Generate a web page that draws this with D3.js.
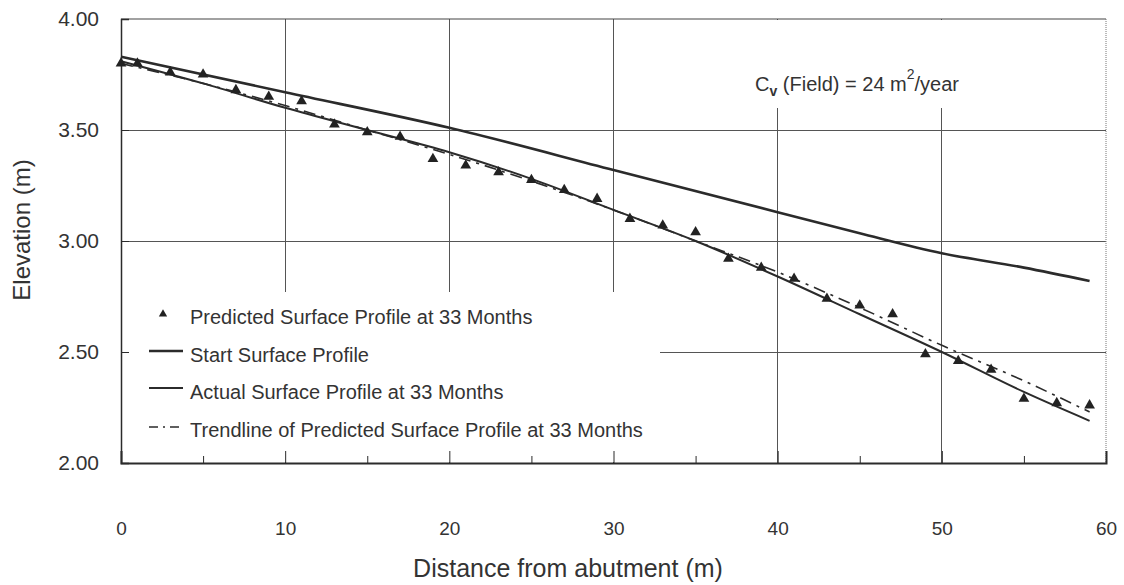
<!DOCTYPE html>
<html>
<head>
<meta charset="utf-8">
<script src="https://cdn.jsdelivr.net/npm/d3@7"></script>
<style>
  body { margin: 0; background: #fff; }
  svg { display: block; }
  text { font-family: "Liberation Sans", Arial, sans-serif; fill: #333; }
  .narrow { font-family: "Liberation Sans Narrow", "Arial Narrow", "Liberation Sans", sans-serif; }
</style>
</head>
<body>
<div id="chart"></div>
<script>
// predicted surface (triangles), every 2 m
var predX = [0, 1, 3, 5, 7, 9, 11, 13, 15, 17, 19, 21, 23, 25, 27, 29, 31, 33, 35, 37, 39, 41, 43, 45, 47, 49, 51, 53, 55, 57, 59];
var predY = [3.80, 3.80, 3.76, 3.75, 3.68, 3.65, 3.63, 3.525, 3.49, 3.47, 3.37, 3.34, 3.31, 3.275, 3.23, 3.19, 3.10, 3.07, 3.04, 2.92, 2.88, 2.83, 2.74, 2.71, 2.67, 2.49, 2.46, 2.42, 2.29, 2.27, 2.26];

// start surface profile
var startX = [0, 10, 20, 30, 40, 45, 50, 55, 59];
var startY = [3.83, 3.67, 3.51, 3.32, 3.13, 3.035, 2.945, 2.88, 2.82];

// actual surface profile at 33 months
var actualX = [0, 5, 10, 15, 20, 25, 30, 35, 40, 45, 50, 55, 59];
var actualY = [3.81, 3.71, 3.60, 3.50, 3.40, 3.28, 3.14, 3.00, 2.84, 2.67, 2.50, 2.32, 2.19];

// trendline of predicted profile
var trendX = [0, 5, 10, 15, 20, 25, 30, 35, 40, 45, 50, 55, 59];
var trendY = [3.80, 3.71, 3.61, 3.50, 3.39, 3.27, 3.14, 3.00, 2.86, 2.70, 2.53, 2.37, 2.23];

var xTicks = [0, 10, 20, 30, 40, 50, 60];
var xMinor = [5, 15, 25, 35, 45, 55];
var yTicks = [2.0, 2.5, 3.0, 3.5, 4.0];

var legendLabels = ["Predicted Surface Profile at 33 Months", "Start Surface Profile",
                    "Actual Surface Profile at 33 Months", "Trendline of Predicted Surface Profile at 33 Months"];

var W = 1124, H = 585;
var pLeft = 121, pRight = 1106, pTop = 19, pBottom = 463;
var ink = "#2b2b2b";

var x = d3.scaleLinear().domain([0, 60]).range([pLeft, pRight]);
var y = d3.scaleLinear().domain([2, 4]).range([pBottom, pTop]);

var svg = d3.select("#chart").append("svg").attr("width", W).attr("height", H);

function zip(xs, ys){ return xs.map(function(d, i){ return [d, ys[i]]; }); }

// grid
var grid = svg.append("g");
grid.selectAll("line.h").data([2.5, 3.0, 3.5]).enter().append("line")
    .attr("x1", pLeft).attr("x2", pRight)
    .attr("y1", function(d){ return y(d); }).attr("y2", function(d){ return y(d); })
    .attr("stroke", "#555").attr("stroke-width", 1).style("shape-rendering", "crispEdges");
grid.selectAll("line.v").data([10, 20, 30, 40, 50]).enter().append("line")
    .attr("x1", function(d){ return x(d); }).attr("x2", function(d){ return x(d); })
    .attr("y1", pTop).attr("y2", pBottom)
    .attr("stroke", "#555").attr("stroke-width", 1).style("shape-rendering", "crispEdges");

// boxes that hide the grid behind legend and note
svg.append("rect").attr("x", pLeft + 1).attr("y", 292).attr("width", 538).attr("height", pBottom - 293).attr("fill", "#fff");
svg.append("rect").attr("x", 742).attr("y", pTop + 1).attr("width", 258).attr("height", 88).attr("fill", "#fff");

// frame
svg.append("line").attr("x1", pLeft).attr("x2", pRight).attr("y1", pTop).attr("y2", pTop)
    .attr("stroke", "#444").attr("stroke-width", 1.2);
svg.append("line").attr("x1", pRight).attr("x2", pRight).attr("y1", pTop).attr("y2", pBottom)
    .attr("stroke", "#777").attr("stroke-width", 1).attr("stroke-dasharray", "1,1");

// y axis
var yAxis = svg.append("g").attr("transform", "translate(" + pLeft + ",0)")
    .call(d3.axisLeft(y).tickValues(yTicks).tickSize(-8).tickPadding(22).tickFormat(d3.format(".2f")));
yAxis.select(".domain").attr("stroke", ink).attr("stroke-width", 1.5);
yAxis.selectAll(".tick line").attr("stroke", ink);
yAxis.selectAll("text").style("font-size", "21px").attr("fill", "#333")
    .style("font-family", "'Liberation Sans', Arial, sans-serif");

// x axis
var xAxis = svg.append("g").attr("transform", "translate(0," + pBottom + ")")
    .call(d3.axisBottom(x).tickValues(xTicks).tickSize(-12).tickPadding(59).tickFormat(d3.format("d")));
xAxis.select(".domain").attr("stroke", ink).attr("stroke-width", 2);
xAxis.selectAll(".tick line").attr("stroke", ink);
xAxis.selectAll("text").attr("class", "narrow").style("font-size", "19px").attr("fill", "#333");
var xMinorAxis = svg.append("g").attr("transform", "translate(0," + pBottom + ")")
    .call(d3.axisBottom(x).tickValues(xMinor).tickSize(-7).tickFormat(""));
xMinorAxis.select(".domain").remove();
xMinorAxis.selectAll(".tick line").attr("stroke", ink);

// axis titles
svg.append("text").attr("class", "narrow").attr("x", 568).attr("y", 577)
    .attr("text-anchor", "middle").style("font-size", "25px").text("Distance from abutment (m)");
svg.append("text").attr("transform", "translate(30,230) rotate(-90)")
    .attr("text-anchor", "middle").style("font-size", "24px").text("Elevation (m)");

// series
var line = d3.line().x(function(d){ return x(d[0]); }).y(function(d){ return y(d[1]); }).curve(d3.curveMonotoneX);

svg.append("path").datum(zip(startX, startY)).attr("d", line)
    .attr("fill", "none").attr("stroke", ink).attr("stroke-width", 2.6);
svg.append("path").datum(zip(actualX, actualY)).attr("d", line)
    .attr("fill", "none").attr("stroke", ink).attr("stroke-width", 2);
svg.append("path").datum(zip(trendX, trendY)).attr("d", line)
    .attr("fill", "none").attr("stroke", ink).attr("stroke-width", 1.6).attr("stroke-dasharray", "12,6,3,6");

var tri = d3.symbol().type(d3.symbolTriangle).size(50);
svg.selectAll("path.pt").data(zip(predX, predY)).enter().append("path")
    .attr("class", "pt").attr("d", tri)
    .attr("transform", function(d){ return "translate(" + x(d[0]) + "," + y(d[1]) + ")"; })
    .attr("fill", "#222");

// legend
var leg = svg.append("g");
var rowY = [317, 355, 392, 430];
var items = leg.selectAll("g").data(legendLabels).enter().append("g")
    .attr("transform", function(d, i){ return "translate(0," + rowY[i] + ")"; });
items.append("text").attr("x", 190).attr("y", 7).style("font-size", "20px").text(function(d){ return d; });
items.filter(function(d, i){ return i === 0; }).append("path").attr("d", d3.symbol().type(d3.symbolTriangle).size(30))
    .attr("transform", "translate(163,-3)").attr("fill", "#222");
items.filter(function(d, i){ return i === 1 || i === 2; }).append("line")
    .attr("x1", 149).attr("x2", 183).attr("y1", -4).attr("y2", -4)
    .attr("stroke", ink).attr("stroke-width", function(d, i){ return i === 0 ? 2.4 : 1.8; });
items.filter(function(d, i){ return i === 3; }).append("line")
    .attr("x1", 149).attr("x2", 183).attr("y1", -3).attr("y2", -3)
    .attr("stroke", ink).attr("stroke-width", 1.4).attr("stroke-dasharray", "9,5,2,5");

// note
var note = svg.append("text").attr("x", 755).attr("y", 91).style("font-size", "20px");
note.append("tspan").text("C");
note.append("tspan").attr("dy", 5).style("font-size", "14px").style("font-weight", "bold").text("v");
note.append("tspan").attr("dy", -5).text(" (Field) = 24 m");
note.append("tspan").attr("dy", -12).style("font-size", "14px").text("2");
note.append("tspan").attr("dy", 12).text("/year");
</script>
</body>
</html>
